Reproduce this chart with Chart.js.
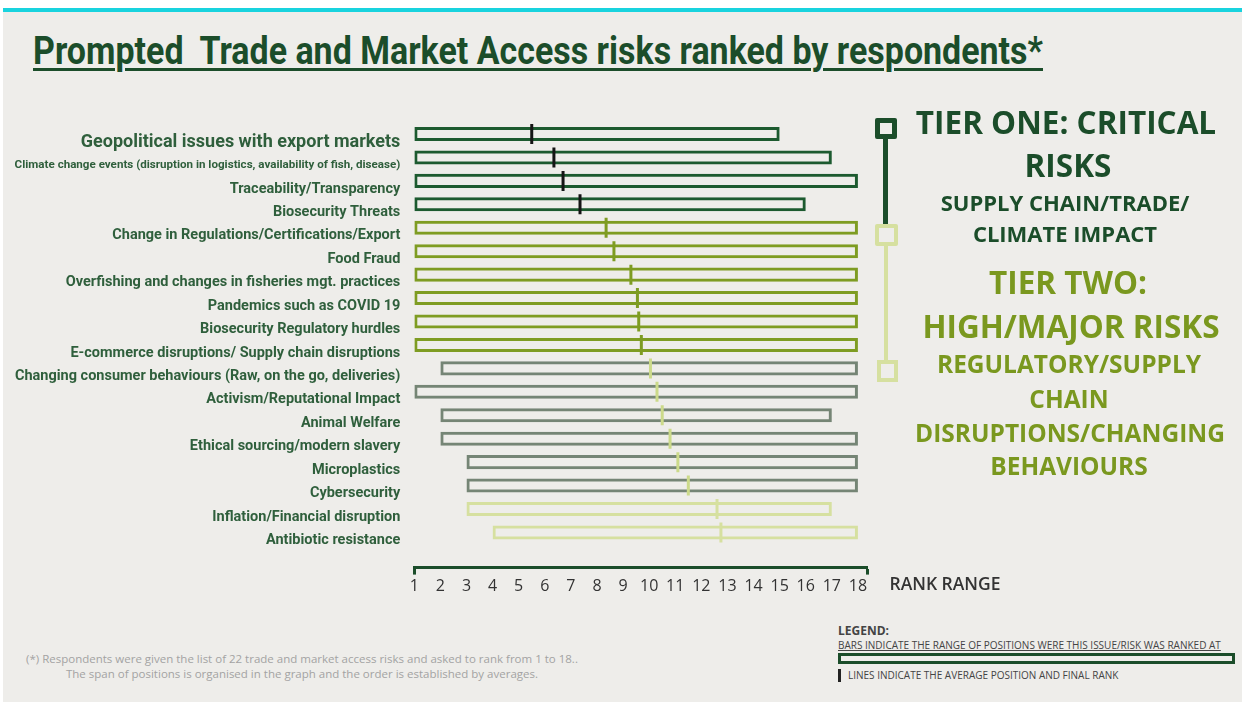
<!DOCTYPE html>
<html>
<head>
<meta charset="utf-8">
<script src="https://cdn.jsdelivr.net/npm/chart.js"></script>
<style>
  html, body { margin: 0; padding: 0; background: #fff; }
  body { width: 1245px; height: 702px; position: relative; overflow: hidden; }
  #panel { position: absolute; left: 3px; top: 8px; width: 1239px; height: 690px;
           background: #eeedea; border-top: 4px solid #19d3de; }
  #chartBox { position: absolute; left: 0; top: 0; width: 900px; height: 620px; }
  .txt { position: absolute; white-space: nowrap; font-family: 'Open Sans', 'Noto Sans', sans-serif; }
  #title { left: 33px; top: 31px; font-family: Roboto, sans-serif;
           font-weight: bold; font-size: 38px; line-height: 40px; color: #1b4d2a;
           text-decoration: underline; text-decoration-thickness: 3px; text-underline-offset: 4px;
           transform-origin: 0 0; }
  .box { position: absolute; box-sizing: border-box; }
</style>
</head>
<body>
<div id="panel"></div>
<div id="title" class="txt">Prompted&nbsp; Trade and Market Access risks ranked by respondents*</div>
<div id="chartBox"><canvas id="myChart"></canvas></div>

<!-- tier timeline -->
<div class="box" style="left:875px;top:118px;width:22px;height:21px;border:5px solid #1b4d2a;border-radius:2px;"></div>
<div class="box" style="left:883px;top:138px;width:5px;height:88px;background:#1b4d2a;"></div>
<div class="box" style="left:875px;top:224px;width:23px;height:22px;border:4px solid #d6e0a0;border-radius:2px;"></div>
<div class="box" style="left:884px;top:246px;width:4px;height:114px;background:#d6e0a0;"></div>
<div class="box" style="left:877px;top:360px;width:21px;height:22px;border:4px solid #d6e0a0;"></div>

<!-- legend -->
<div class="box" style="left:838px;top:653px;width:397px;height:11px;border:3px solid #1b4d2a;"></div>
<div class="box" style="left:838px;top:669px;width:3px;height:13px;background:#222;"></div>

<script>
var categories = [
  "Geopolitical issues with export markets",
  "Climate change events (disruption in logistics, availability of fish, disease)",
  "Traceability/Transparency",
  "Biosecurity Threats",
  "Change in Regulations/Certifications/Export",
  "Food Fraud",
  "Overfishing and changes in fisheries mgt. practices",
  "Pandemics such as COVID 19",
  "Biosecurity Regulatory hurdles",
  "E-commerce disruptions/ Supply chain disruptions",
  "Changing consumer behaviours (Raw, on the go, deliveries)",
  "Activism/Reputational Impact",
  "Animal Welfare",
  "Ethical sourcing/modern slavery",
  "Microplastics",
  "Cybersecurity",
  "Inflation/Financial disruption",
  "Antibiotic resistance"
];
var rangeStart  = [1, 1, 1, 1, 1, 1, 1, 1, 1, 1, 2, 1, 2, 2, 3, 3, 3, 4];
var rangeEnd    = [15, 17, 18, 16, 18, 18, 18, 18, 18, 18, 18, 18, 17, 18, 18, 18, 17, 18];
var averageRank = [5.5, 6.35, 6.7, 7.35, 8.35, 8.65, 9.3, 9.55, 9.6, 9.7, 10.05, 10.3, 10.5, 10.8, 11.1, 11.5, 12.6, 12.75];
var rowGroup    = [1, 1, 1, 1, 2, 2, 2, 2, 2, 2, 3, 3, 3, 3, 3, 3, 4, 4];
var rankTicks   = [1, 2, 3, 4, 5, 6, 7, 8, 9, 10, 11, 12, 13, 14, 15, 16, 17, 18];

var barColor  = { 1: '#1c5a2f', 2: '#7e9c22', 3: '#758575', 4: '#d6e0a0' };
var markColor = { 1: '#151515', 2: '#7e9c22', 3: '#ccda8a', 4: '#d6e0a0' };

var ctx = document.getElementById("myChart");

var data = {
  labels: categories.concat(['']),
  datasets: [{
    type: 'scatter',
    order: 0,
    data: categories.map(function(c, i) { return { x: averageRank[i], y: c }; }),
    pointStyle: 'line',
    rotation: 90,
    radius: 10,
    hoverRadius: 10,
    borderWidth: 3,
    borderColor: rowGroup.map(function(g) { return markColor[g]; })
  }, {
    type: 'bar',
    order: 1,
    data: categories.map(function(c, i) { return [rangeStart[i], rangeEnd[i]]; }),
    borderColor: rowGroup.map(function(g) { return barColor[g]; }),
    backgroundColor: 'rgba(0,0,0,0)',
    borderWidth: 3,
    borderSkipped: false,
    barPercentage: 0.6,
    categoryPercentage: 1
  }]
};

var options = {
  indexAxis: 'y',
  responsive: true,
  maintainAspectRatio: false,
  animation: false,
  layout: { padding: { top: 122.3, left: 0, right: 32.4, bottom: 12.4 } },
  plugins: { legend: { display: false }, tooltip: { enabled: false } },
  scales: {
    y: {
      type: 'category',
      grid: { display: false },
      border: { display: false },
      afterFit: function(s) { s.width = 414.3; },
      ticks: {
        autoSkip: false,
        padding: 6,
        labelOffset: 8,
        color: '#2f5f3c',
        font: function(c) {
          var size = c.index === 0 ? 18 : (c.index === 1 ? 11.6 : 14.5);
          return { family: "Roboto, sans-serif", weight: 'bold', size: size };
        }
      }
    },
    x: {
      type: 'linear',
      min: 1,
      max: 18.37,
      afterFit: function(s) { s.height = 40; },
      afterBuildTicks: function(s) {
        s.ticks = rankTicks.map(function(v) { return { value: v }; }).concat([{ value: s.max }]);
      },
      border: { display: true, color: '#1b4d2a', width: 3 },
      grid: {
        drawOnChartArea: false,
        drawTicks: true,
        tickLength: 7,
        tickWidth: 3,
        color: function(c) {
          return (c.tick && (c.tick.value === 1 || c.tick.value === c.scale.max)) ? '#1b4d2a' : 'rgba(0,0,0,0)';
        }
      },
      ticks: {
        padding: 2,
        color: '#333',
        font: { family: "'Open Sans', 'Noto Sans', sans-serif", size: 16 },
        callback: function(v) { return rankTicks.indexOf(v) >= 0 ? String(v) : ''; }
      }
    }
  }
};

var myChart = new Chart(ctx, { type: 'bar', data: data, options: options });

// side texts
var notes = [
  ['TIER ONE: CRITICAL', 1066, 123, 31.5, '#1b4d2a', 'bold'],
  ['RISKS', 1068, 166, 31.5, '#1b4d2a', 'bold'],
  ['SUPPLY CHAIN/TRADE/', 1065, 203, 22, '#1b4d2a', 'bold'],
  ['CLIMATE IMPACT', 1065, 234, 22, '#1b4d2a', 'bold'],
  ['TIER TWO:', 1068, 283, 31.5, '#7a981f', 'bold'],
  ['HIGH/MAJOR RISKS', 1071, 327, 31.5, '#7a981f', 'bold'],
  ['REGULATORY/SUPPLY', 1069, 365, 24.5, '#7a981f', 'bold'],
  ['CHAIN', 1069, 400, 24.5, '#7a981f', 'bold'],
  ['DISRUPTIONS/CHANGING', 1070, 434, 24.5, '#7a981f', 'bold'],
  ['BEHAVIOURS', 1069, 467, 24.5, '#7a981f', 'bold'],
  ['RANK RANGE', 945, 584, 17.5, '#333', '600'],
  ['(*) Respondents were given the list of 22 trade and market access risks and asked to rank from 1 to 18..', 302, 659, 11.5, '#a3a3a3', 'normal'],
  ['The span of positions is organised in the graph and the order is established by averages.', 302, 674, 11.5, '#a3a3a3', 'normal']
];
notes.forEach(function(n) {
  var d = document.createElement('div');
  d.className = 'txt';
  d.textContent = n[0];
  d.style.left = (n[1] - 300) + 'px';
  d.style.width = '600px';
  d.style.textAlign = 'center';
  d.style.top = (n[2] - 0.53 * n[3]) + 'px';
  d.style.fontSize = n[3] + 'px';
  d.style.lineHeight = n[3] + 'px';
  d.style.color = n[4];
  d.style.fontWeight = n[5];
  document.body.appendChild(d);
});

var legendTexts = [
  ['LEGEND:', 838, 631, 12, 'bold', false],
  ['BARS INDICATE THE RANGE OF POSITIONS WERE THIS ISSUE/RISK WAS RANKED AT', 838, 645, 10, 'normal', true],
  ['LINES INDICATE THE AVERAGE POSITION AND FINAL RANK', 848, 675, 10, 'normal', false]
];
legendTexts.forEach(function(n) {
  var d = document.createElement('div');
  d.className = 'txt';
  d.textContent = n[0];
  d.style.left = n[1] + 'px';
  d.style.top = (n[2] - 0.53 * n[3]) + 'px';
  d.style.fontSize = n[3] + 'px';
  d.style.lineHeight = n[3] + 'px';
  d.style.color = '#444';
  d.style.fontWeight = n[4];
  if (n[5]) d.style.textDecoration = 'underline';
  document.body.appendChild(d);
});

// stretch the title to the width it has in the picture
var t = document.getElementById('title');
t.style.transform = 'scaleX(' + (1010 / t.getBoundingClientRect().width) + ')';
</script>
</body>
</html>
